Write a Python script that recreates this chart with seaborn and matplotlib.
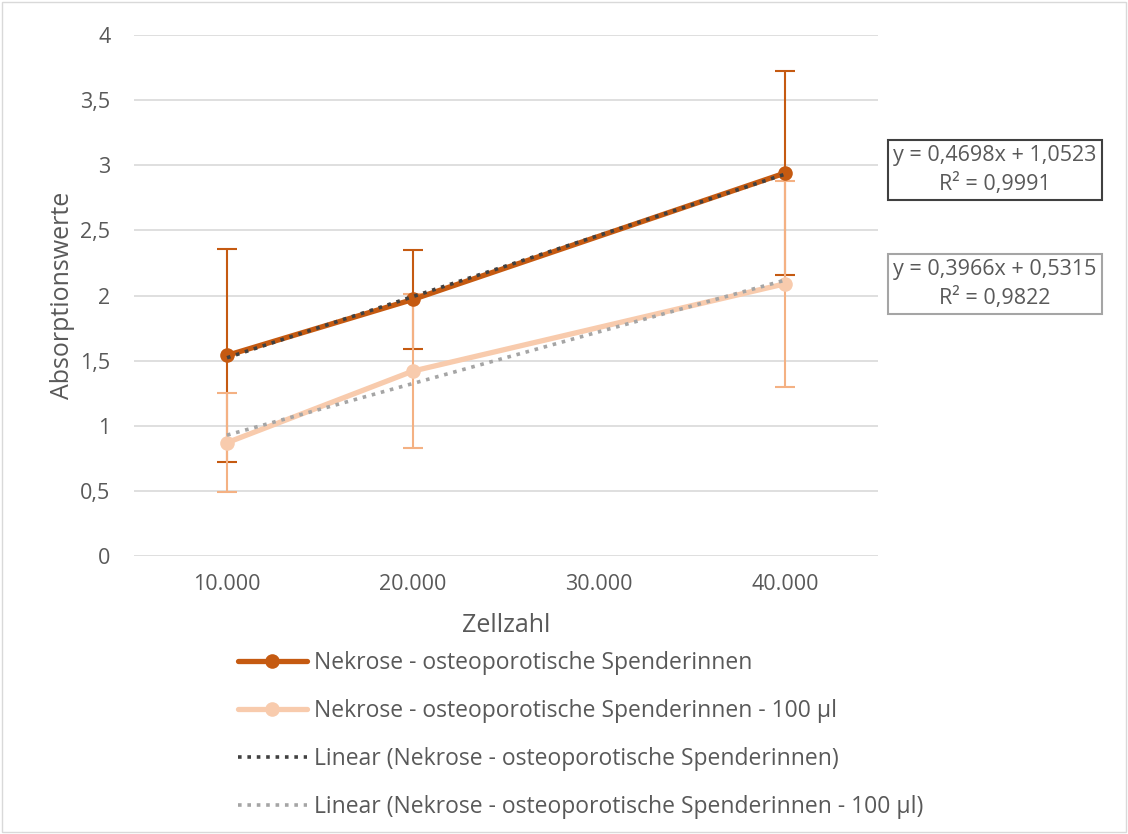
import matplotlib.pyplot as plt
import numpy as np
import pandas as pd
import seaborn as sns
from matplotlib.lines import Line2D
from matplotlib.ticker import FuncFormatter

# data
zellzahl = [10000, 20000, 40000]
nekrose = [1.54, 1.97, 2.94]
nekrose_err = [0.82, 0.38, 0.78]
nekrose_100 = [0.87, 1.42, 2.09]
nekrose_100_err = [0.38, 0.59, 0.79]
x_ticks = [10000, 20000, 30000, 40000]
y_ticks = [0, 0.5, 1, 1.5, 2, 2.5, 3, 3.5, 4]

# trendline coefficients as printed in the chart (x in units of 10.000)
trend_1 = (0.4698, 1.0523, 0.9991)
trend_2 = (0.3966, 0.5315, 0.9822)

labels = [
    "Nekrose - osteoporotische Spenderinnen",
    "Nekrose - osteoporotische Spenderinnen - 100 µl",
    "Linear (Nekrose - osteoporotische Spenderinnen)",
    "Linear (Nekrose - osteoporotische Spenderinnen - 100 µl)",
]

DARK = "#C55A11"
LIGHT = "#F8CBAD"
LIGHT_ERR = "#F4B183"
TREND_DARK = "#404040"
TREND_GRAY = "#A5A5A5"
TXT = "#595959"

sns.set_theme(style="white")
plt.rcParams["font.family"] = ["Open Sans", "DejaVu Sans"]

fig = plt.figure(figsize=(11.28, 8.34), dpi=100)
ax = fig.add_axes([134 / 1128, 1 - 556 / 834, (878 - 134) / 1128, (556 - 35) / 834])

df1 = pd.DataFrame({"x": zellzahl, "y": nekrose})
df2 = pd.DataFrame({"x": zellzahl, "y": nekrose_100})

# error bars first so the lines sit on top
ax.errorbar(zellzahl, nekrose, yerr=nekrose_err, fmt="none", ecolor=DARK,
            elinewidth=1.5, capsize=7, capthick=1.5, zorder=2)
ax.errorbar(zellzahl, nekrose_100, yerr=nekrose_100_err, fmt="none", ecolor=LIGHT_ERR,
            elinewidth=1.5, capsize=7, capthick=1.5, zorder=2)

sns.lineplot(data=df2, x="x", y="y", ax=ax, color=LIGHT, linewidth=3.8,
             marker="o", markersize=10.5, markeredgewidth=0, zorder=3)
sns.lineplot(data=df1, x="x", y="y", ax=ax, color=DARK, linewidth=3.8,
             marker="o", markersize=10.5, markeredgewidth=0, zorder=4)

xs = np.array([zellzahl[0], zellzahl[-1]])
for (m, b, _), col in [(trend_1, TREND_DARK), (trend_2, TREND_GRAY)]:
    ax.plot(xs, m * xs / 10000 + b, color=col, linestyle=(0, (1, 1.6)),
            linewidth=2.6, zorder=5)

ax.set_xlim(5000, 45000)
ax.set_ylim(0, 4)
ax.set_xticks(x_ticks)
ax.set_yticks(y_ticks)
ax.xaxis.set_major_formatter(FuncFormatter(lambda v, p: f"{int(v):,}".replace(",", ".")))
ax.yaxis.set_major_formatter(FuncFormatter(lambda v, p: f"{v:g}".replace(".", ",")))
ax.tick_params(axis="both", length=0, labelsize=15.5, labelcolor=TXT)
ax.tick_params(axis="x", pad=13)
ax.tick_params(axis="y", pad=17)
ax.grid(axis="y", color="#D9D9D9", linewidth=1.2)
ax.set_axisbelow(True)
for s in ax.spines.values():
    s.set_visible(False)
ax.set_xlabel("Zellzahl", fontsize=18, color=TXT, labelpad=13)
ax.set_ylabel("Absorptionswerte", fontsize=18, color=TXT, labelpad=4)

# trendline equation boxes
for (m, b, r2), y, ec in [(trend_1, 170 / 834, TREND_DARK), (trend_2, 284 / 834, TREND_GRAY)]:
    txt = f"y = {m:.4f}x + {b:.4f}\nR² = {r2:.4f}".replace(".", ",")
    fig.text(995 / 1128, 1 - y, txt, ha="center", va="center", fontsize=15.5,
             color=TXT, linespacing=1.4,
             bbox=dict(boxstyle="square,pad=0.25", fc="white", ec=ec, lw=1.5))

handles = [
    Line2D([], [], color=DARK, linewidth=3.8, marker="o", markersize=10.5, markeredgewidth=0),
    Line2D([], [], color=LIGHT, linewidth=3.8, marker="o", markersize=10.5, markeredgewidth=0),
    Line2D([], [], color=TREND_DARK, linestyle=(0, (1, 1.6)), linewidth=2.6),
    Line2D([], [], color=TREND_GRAY, linestyle=(0, (1, 1.6)), linewidth=2.6),
]
fig.legend(handles, labels, loc="upper left", bbox_to_anchor=(222 / 1128, 1 - 635 / 834),
           frameon=False, fontsize=16.5, labelcolor=TXT, handlelength=3.0,
           handletextpad=0.3, labelspacing=1.05, numpoints=1, borderpad=0.2)

# thin outer border like the exported chart area
fig.patches.append(plt.Rectangle((0.002, 0.002), 0.996, 0.996, transform=fig.transFigure,
                                 fill=False, ec="#D9D9D9", lw=1))

fig.savefig("out.png", dpi=100)
